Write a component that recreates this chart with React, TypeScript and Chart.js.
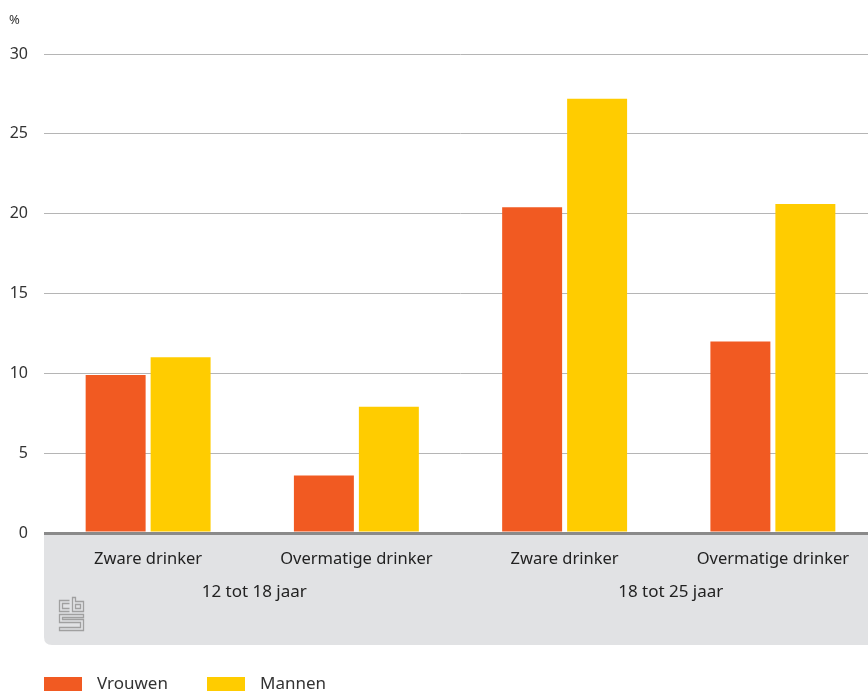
import React, { useEffect, useRef } from "react";
import { Chart, registerables } from "chart.js";

Chart.register(...registerables);

const categories = ["Zware drinker", "Overmatige drinker", "Zware drinker", "Overmatige drinker"];
const groups = ["12 tot 18 jaar", "18 tot 25 jaar"];
const vrouwen = [9.9, 3.6, 20.4, 12.0];
const mannen = [11.0, 7.9, 27.2, 20.6];
const seriesNames = ["Vrouwen", "Mannen"];
const colors = ["#F15A22", "#FFCC00"];
const yTicks = [0, 5, 10, 15, 20, 25, 30];

const FONT = "'Noto Sans', sans-serif";

const decorPlugin = {
  id: "decor",
  beforeDraw(chart: any) {
    const { ctx, chartArea } = chart;
    const left = chartArea.left;
    const right = chart.width;
    const top = chartArea.bottom;
    const bottom = 645;
    const r = 8;
    ctx.save();
    ctx.fillStyle = "#e1e2e4";
    ctx.beginPath();
    ctx.moveTo(left, top);
    ctx.lineTo(right, top);
    ctx.lineTo(right, bottom);
    ctx.lineTo(left + r, bottom);
    ctx.quadraticCurveTo(left, bottom, left, bottom - r);
    ctx.closePath();
    ctx.fill();
    ctx.restore();
  },
  afterDraw(chart: any) {
    const { ctx, chartArea, scales } = chart;
    const x = scales.x;
    ctx.save();
    // % label
    ctx.fillStyle = "#333";
    ctx.font = `13px ${FONT}`;
    ctx.textAlign = "left";
    ctx.textBaseline = "middle";
    ctx.fillText("%", 9, 20);
    // group labels
    ctx.font = `17px ${FONT}`;
    ctx.textAlign = "center";
    ctx.fillStyle = "#222";
    groups.forEach((g, i) => {
      const cx = (x.getPixelForValue(i * 2) + x.getPixelForValue(i * 2 + 1)) / 2;
      ctx.fillText(g, cx + 2, 592);
    });
    // legend
    let lx = chartArea.left;
    const ly = 677;
    ctx.textAlign = "left";
    ctx.font = `17px ${FONT}`;
    seriesNames.forEach((n, i) => {
      ctx.fillStyle = colors[i];
      ctx.fillRect(lx, ly, 38, 14);
      ctx.fillStyle = "#333";
      ctx.fillText(n, lx + 53, ly + 7);
      lx += 163;
    });
    // logo
    ctx.strokeStyle = "#a0a0a0";
    ctx.lineWidth = 1.3;
    const ox = 59.5, oy = 597.5;
    ctx.beginPath();
    // "c"
    ctx.moveTo(ox + 10, oy + 3);
    ctx.lineTo(ox, oy + 3);
    ctx.lineTo(ox, oy + 14);
    ctx.lineTo(ox + 10, oy + 14);
    ctx.moveTo(ox + 10, oy + 6);
    ctx.lineTo(ox + 3, oy + 6);
    ctx.lineTo(ox + 3, oy + 11);
    ctx.lineTo(ox + 10, oy + 11);
    // "b"
    ctx.moveTo(ox + 13, oy);
    ctx.lineTo(ox + 13, oy + 14);
    ctx.lineTo(ox + 24, oy + 14);
    ctx.lineTo(ox + 24, oy + 4);
    ctx.lineTo(ox + 16, oy + 4);
    ctx.lineTo(ox + 16, oy);
    ctx.closePath();
    ctx.rect(ox + 16, oy + 7, 5, 4);
    // "S"
    ctx.moveTo(ox + 24, oy + 17);
    ctx.lineTo(ox, oy + 17);
    ctx.lineTo(ox, oy + 25);
    ctx.lineTo(ox + 21, oy + 25);
    ctx.lineTo(ox + 21, oy + 30);
    ctx.lineTo(ox, oy + 30);
    ctx.lineTo(ox, oy + 33);
    ctx.lineTo(ox + 24, oy + 33);
    ctx.lineTo(ox + 24, oy + 22);
    ctx.lineTo(ox + 3, oy + 22);
    ctx.lineTo(ox + 3, oy + 20);
    ctx.lineTo(ox + 24, oy + 20);
    ctx.closePath();
    ctx.stroke();
    ctx.restore();
  },
};

export default function App() {
  const ref = useRef<HTMLCanvasElement>(null);
  useEffect(() => {
    if (!ref.current) return;
    const chart = new Chart(ref.current, {
      type: "bar",
      data: {
        labels: categories,
        datasets: [
          { label: seriesNames[0], data: vrouwen, backgroundColor: colors[0] },
          { label: seriesNames[1], data: mannen, backgroundColor: colors[1] },
        ],
      },
      options: {
        animation: false,
        responsive: false,
        maintainAspectRatio: false,
        layout: { padding: { top: 54, right: 0, left: 0, bottom: 0 } },
        plugins: { legend: { display: false }, tooltip: { enabled: false } },
        datasets: { bar: { barPercentage: 0.923, categoryPercentage: 0.624 } },
        scales: {
          x: {
            grid: { display: false, drawTicks: false },
            border: { display: false },
            ticks: {
              autoSkip: false,
              maxRotation: 0,
              padding: 16,
              color: "#222",
              font: { family: FONT, size: 16.5 },
            },
            afterFit(scale: any) {
              scale.height = 158;
            },
          },
          y: {
            min: 0,
            max: 30,
            afterBuildTicks(scale: any) {
              scale.ticks = yTicks.map((v) => ({ value: v }));
            },
            grid: {
              drawTicks: false,
              color: (c: any) => (c.tick && c.tick.value === 0 ? "#8a8a8a" : "#b5b5b5"),
              lineWidth: (c: any) => (c.tick && c.tick.value === 0 ? 3 : 1),
            },
            border: { display: false },
            ticks: {
              padding: 16,
              color: "#333",
              font: { family: FONT, size: 16 },
            },
            afterFit(scale: any) {
              scale.width = 44;
            },
          },
        },
      },
      plugins: [decorPlugin],
    });
    return () => chart.destroy();
  }, []);
  return (
    <div style={{ position: "absolute", left: 0, top: 0, width: 868, height: 691, overflow: "hidden" }}>
      <canvas ref={ref} width={877} height={691} style={{ width: 877, height: 691, display: "block" }} />
    </div>
  );
}
